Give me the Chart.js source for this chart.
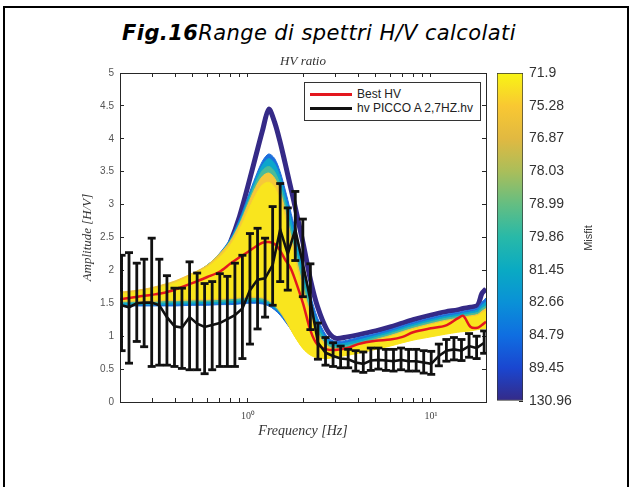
<!DOCTYPE html>
<html>
<head>
<meta charset="utf-8">
<script src="https://cdn.jsdelivr.net/npm/chart.js@4.4.1/dist/chart.umd.min.js"></script>
<style>
  body { margin: 0; width: 638px; height: 487px; overflow: hidden; position: relative; background: #fff; font-family: "Liberation Sans", sans-serif; }
  #frame { position: absolute; left: 3px; top: 6px; width: 622px; height: 495px; border: 2px solid #000; }
  #figTitle { position: absolute; left: 0; top: 20px; width: 638px; text-align: center; font: italic 21px "DejaVu Sans"; letter-spacing: 0.4px; line-height: 26px; color: #000; }
  #figTitle b { font-weight: bold; }
  #main { position: absolute; left: 40px; top: 0; }
  #cbar { position: absolute; left: 490px; top: 0; }
  #legend { position: absolute; left: 304px; top: 82px; width: 175px; height: 37px; border: 1px solid #333; background: #fff; font-size: 12px; color: #222; }
  #legend .row { position: absolute; left: 5px; height: 15px; line-height: 15px; display: flex; align-items: center; white-space: nowrap; }
  #legend .swatch { display: inline-block; width: 42px; height: 3px; margin-right: 5px; }
  #misfit { position: absolute; left: 558px; top: 231px; width: 60px; height: 14px; line-height: 14px; text-align: center; font-size: 11px; color: #333; transform: rotate(-90deg); }
</style>
</head>
<body>
<div id="frame"></div>
<div id="figTitle"><b>Fig.16</b>Range di spettri H/V calcolati</div>
<canvas id="main" width="526" height="487"></canvas>
<canvas id="cbar" width="148" height="487"></canvas>
<div id="legend">
  <div class="row" style="top:4px"><span class="swatch" style="background:#e3171e"></span>Best HV</div>
  <div class="row" style="top:18px"><span class="swatch" style="background:#111"></span>hv PICCO A 2,7HZ.hv</div>
</div>
<div id="misfit">Misfit</div>

<script>
// measured H/V curve (black) with error bars
const freq = [0.204, 0.224, 0.247, 0.271, 0.298, 0.328, 0.361, 0.397, 0.436, 0.480,
  0.528, 0.580, 0.638, 0.702, 0.772, 0.849, 0.933, 1.026, 1.129, 1.241,
  1.365, 1.501, 1.651, 1.815, 1.996, 2.195, 2.414, 2.655, 2.920, 3.211,
  3.531, 3.883, 4.270, 4.696, 5.164, 5.679, 6.245, 6.868, 7.553, 8.306,
  9.134, 10.04, 11.05, 12.15, 13.36, 14.69, 16.16, 17.77, 19.54];
const hvMean = [1.47, 1.44, 1.50, 1.51, 1.51, 1.47, 1.29, 1.15, 1.13, 1.29,
  1.19, 1.14, 1.17, 1.20, 1.26, 1.32, 1.42, 1.70, 1.86, 1.88,
  2.08, 2.62, 2.25, 2.62, 2.10, 1.55, 0.90, 0.75, 0.70, 0.66,
  0.65, 0.60, 0.58, 0.63, 0.64, 0.63, 0.62, 0.64, 0.62, 0.62,
  0.60, 0.58, 0.70, 0.78, 0.80, 0.78, 0.85, 0.82, 0.90];
const hvHigh = [2.23, 2.27, 2.11, 2.17, 2.49, 2.17, 1.92, 1.73, 1.73, 2.13,
  1.96, 1.80, 1.83, 1.95, 1.91, 2.11, 2.23, 2.56, 2.64, 2.49,
  2.97, 3.32, 2.95, 3.20, 2.78, 2.10, 1.20, 0.98, 0.90, 0.85,
  0.80, 0.78, 0.76, 0.82, 0.82, 0.80, 0.80, 0.82, 0.80, 0.80,
  0.78, 0.77, 0.88, 0.95, 0.98, 0.95, 1.04, 1.00, 1.08];
const hvLow = [0.78, 0.59, 0.92, 0.84, 0.54, 0.56, 0.56, 0.54, 0.51, 0.49,
  0.49, 0.43, 0.49, 0.54, 0.54, 0.54, 0.66, 0.88, 1.11, 1.29,
  1.47, 1.83, 1.70, 2.15, 1.60, 1.10, 0.65, 0.56, 0.54, 0.52,
  0.52, 0.47, 0.45, 0.48, 0.50, 0.48, 0.47, 0.49, 0.47, 0.47,
  0.44, 0.42, 0.55, 0.62, 0.64, 0.63, 0.68, 0.66, 0.74];

// modelled curves (coloured by misfit)
const bandFreq = [0.2, 0.25, 0.3, 0.35, 0.4, 0.5, 0.6, 0.7, 0.8, 0.9,
  1.0, 1.1, 1.2, 1.3, 1.4, 1.5, 1.6, 1.7, 1.8, 2.0,
  2.2, 2.4, 2.7, 3.0, 3.5, 4.0, 5.0, 6.0, 7.0, 8.0,
  10, 12, 14, 15, 16.5, 18, 19, 20];
const bestHV = [1.56, 1.60, 1.63, 1.66, 1.71, 1.81, 1.90, 1.98, 2.10, 2.20,
  2.28, 2.36, 2.42, 2.43, 2.40, 2.30, 2.16, 2.05, 1.88, 1.50,
  1.08, 0.87, 0.80, 0.79, 0.82, 0.88, 0.93, 0.95, 0.99, 1.06,
  1.12, 1.16, 1.27, 1.31, 1.14, 1.13, 1.17, 1.22];
const worstHV = [1.50, 1.50, 1.50, 1.51, 1.52, 1.56, 1.70, 2.05, 2.42, 2.82,
  3.28, 3.72, 4.12, 4.45, 4.25, 3.95, 3.62, 3.30, 3.00, 2.42,
  1.85, 1.45, 1.10, 0.97, 0.99, 1.02, 1.08, 1.14, 1.20, 1.25,
  1.32, 1.37, 1.40, 1.42, 1.44, 1.47, 1.65, 1.72];
const blueUp = [1.64, 1.67, 1.71, 1.76, 1.81, 1.94, 2.08, 2.26, 2.48, 2.78,
  3.12, 3.42, 3.66, 3.77, 3.70, 3.50, 3.22, 2.93, 2.65, 2.10,
  1.62, 1.28, 1.00, 0.92, 0.94, 0.98, 1.04, 1.10, 1.16, 1.21,
  1.28, 1.33, 1.36, 1.38, 1.40, 1.43, 1.52, 1.58];
const blueLow = [1.46, 1.46, 1.46, 1.46, 1.46, 1.47, 1.47, 1.48, 1.48, 1.49,
  1.50, 1.50, 1.49, 1.46, 1.40, 1.32, 1.22, 1.12, 1.02, 0.86,
  0.77, 0.74, 0.74, 0.76, 0.79, 0.82, 0.88, 0.93, 0.98, 1.02,
  1.07, 1.11, 1.14, 1.15, 1.16, 1.18, 1.19, 1.20];
const cyanUp = [1.65, 1.68, 1.72, 1.77, 1.82, 1.94, 2.08, 2.25, 2.46, 2.75,
  3.08, 3.38, 3.60, 3.70, 3.62, 3.42, 3.12, 2.82, 2.52, 1.98,
  1.52, 1.20, 0.95, 0.88, 0.90, 0.94, 1.01, 1.07, 1.13, 1.18,
  1.25, 1.30, 1.33, 1.35, 1.37, 1.40, 1.47, 1.52];
const cyanLow = [1.48, 1.48, 1.48, 1.48, 1.49, 1.49, 1.50, 1.50, 1.51, 1.52,
  1.53, 1.53, 1.52, 1.49, 1.43, 1.35, 1.25, 1.14, 1.03, 0.86,
  0.76, 0.72, 0.72, 0.74, 0.77, 0.80, 0.86, 0.91, 0.96, 1.00,
  1.05, 1.09, 1.12, 1.13, 1.14, 1.16, 1.17, 1.18];
const greenUp = [1.66, 1.69, 1.73, 1.78, 1.83, 1.95, 2.08, 2.25, 2.45, 2.72,
  3.04, 3.32, 3.52, 3.58, 3.50, 3.30, 3.00, 2.68, 2.38, 1.85,
  1.42, 1.12, 0.90, 0.84, 0.86, 0.90, 0.98, 1.04, 1.10, 1.15,
  1.22, 1.27, 1.30, 1.32, 1.34, 1.36, 1.42, 1.46];
const greenLow = [1.51, 1.51, 1.51, 1.51, 1.52, 1.52, 1.53, 1.53, 1.54, 1.55,
  1.56, 1.56, 1.55, 1.52, 1.45, 1.36, 1.25, 1.13, 1.02, 0.84,
  0.74, 0.70, 0.69, 0.71, 0.74, 0.77, 0.83, 0.88, 0.93, 0.97,
  1.02, 1.06, 1.09, 1.10, 1.11, 1.13, 1.14, 1.15];
const orangeUp = [1.67, 1.70, 1.74, 1.79, 1.84, 1.96, 2.08, 2.25, 2.44, 2.70,
  3.00, 3.26, 3.43, 3.48, 3.40, 3.20, 2.90, 2.58, 2.28, 1.75,
  1.33, 1.05, 0.86, 0.81, 0.83, 0.87, 0.95, 1.01, 1.07, 1.12,
  1.19, 1.24, 1.27, 1.29, 1.31, 1.33, 1.38, 1.42];
const orangeLow = [1.53, 1.53, 1.53, 1.54, 1.54, 1.55, 1.55, 1.56, 1.57, 1.58,
  1.59, 1.59, 1.58, 1.54, 1.47, 1.37, 1.25, 1.12, 1.00, 0.82,
  0.72, 0.68, 0.67, 0.69, 0.72, 0.75, 0.81, 0.86, 0.91, 0.95,
  1.00, 1.04, 1.07, 1.08, 1.09, 1.11, 1.12, 1.13];
const yellowUp = [1.64, 1.67, 1.71, 1.76, 1.81, 1.93, 2.05, 2.20, 2.38, 2.62,
  2.90, 3.14, 3.30, 3.34, 3.26, 3.06, 2.77, 2.46, 2.17, 1.66,
  1.26, 1.00, 0.83, 0.79, 0.81, 0.85, 0.93, 0.99, 1.05, 1.10,
  1.17, 1.22, 1.25, 1.27, 1.29, 1.31, 1.35, 1.38];
const yellowLow = [1.55, 1.55, 1.56, 1.56, 1.56, 1.57, 1.57, 1.58, 1.59, 1.60,
  1.61, 1.61, 1.60, 1.56, 1.49, 1.39, 1.27, 1.13, 1.00, 0.81,
  0.71, 0.67, 0.66, 0.68, 0.71, 0.74, 0.80, 0.85, 0.90, 0.94,
  0.99, 1.03, 1.06, 1.07, 1.08, 1.10, 1.11, 1.12];

// axis ticks
const xTickValues = [0.2, 0.3, 0.4, 0.5, 0.6, 0.7, 0.8, 0.9, 1, 2, 3, 4, 5, 6, 7, 8, 9, 10, 20];
const xTickLabels = { 1: "10\u2070", 10: "10\u00b9" };
const misfitLabels = ["71.9", "75.28", "76.87", "78.03", "78.99", "79.86", "81.45", "82.66", "84.79", "89.45", "130.96"];

// parula-like colormap, low misfit (yellow) on top
const parula = ["#352a87", "#1a46d0", "#0f6ee1", "#0a91d7", "#0aaac3", "#28b9a8", "#64be82", "#aabe5a", "#e1b941", "#f9c832", "#f8f514"];

const pts = (xs, ys) => xs.map((x, i) => ({ x, y: ys[i] }));

const datasets = [];
datasets.push({ data: pts(freq, hvMean), borderColor: "#111", borderWidth: 2.6, pointRadius: 0, tension: 0, order: 1 });
datasets.push({
  data: freq.flatMap((f, i) => [{ x: f, y: hvLow[i] }, { x: f, y: hvHigh[i] }, { x: f, y: null }]),
  borderColor: "#111", borderWidth: 2.8, pointStyle: "line", pointRadius: 4,
  pointBorderColor: "#111", pointBorderWidth: 2.8, spanGaps: false, tension: 0, order: 0
});
datasets.push({ data: pts(bandFreq, bestHV), borderColor: "#e3171e", borderWidth: 2.5, pointRadius: 0, tension: 0.3, order: 2 });

function band(up, low, color, order) {
  datasets.push({ data: pts(bandFreq, up), borderColor: color, borderWidth: 1, backgroundColor: color, fill: "+1", pointRadius: 0, tension: 0.3, order });
  datasets.push({ data: pts(bandFreq, low), borderColor: color, borderWidth: 1, fill: false, pointRadius: 0, tension: 0.3, order });
}
band(yellowUp, yellowLow, "#f9e51e", 3);
band(orangeUp, orangeLow, "#f6c83a", 4);
band(greenUp, greenLow, "#4cbb98", 5);
band(cyanUp, cyanLow, "#0ca6cc", 6);
band(blueUp, blueLow, "#1c6fdc", 7);
datasets.push({ data: pts(bandFreq, worstHV), borderColor: "#352a87", borderWidth: 5, pointRadius: 0, tension: 0.3, order: 8 });

const axisColor = "#262626";
const gridOpts = { drawOnChartArea: false, tickLength: -4, color: axisColor, lineWidth: 1 };
const borderOpts = { color: axisColor, width: 1 };
const setXTicks = s => { s.ticks = xTickValues.map(v => ({ value: v })); };

new Chart(document.getElementById("main"), {
  type: "line",
  data: { datasets },
  options: {
    responsive: false,
    animation: false,
    devicePixelRatio: 1,
    layout: { padding: 0 },
    plugins: {
      legend: { display: false },
      tooltip: { enabled: false },
      title: {
        display: true, text: "HV ratio", color: "#333",
        font: { family: "Liberation Serif", style: "italic", size: 13, lineHeight: 1, weight: "normal" },
        padding: { top: 55, bottom: 0 }
      }
    },
    scales: {
      x: {
        type: "logarithmic", position: "bottom", min: 0.2, max: 20,
        afterBuildTicks: setXTicks,
        afterFit: s => { s.height = 85; },
        ticks: { autoSkip: false, maxRotation: 0, padding: 12, color: "#444", font: { family: "Liberation Serif", size: 10 }, callback: v => xTickLabels[v] || "" },
        grid: gridOpts, border: borderOpts,
        title: { display: true, text: "Frequency [Hz]", color: "#333", font: { family: "Liberation Serif", style: "italic", size: 14 }, padding: { top: 0, bottom: 47 } }
      },
      x2: {
        type: "logarithmic", position: "top", min: 0.2, max: 20,
        afterBuildTicks: setXTicks,
        afterFit: s => { s.height = 5; },
        ticks: { display: false },
        grid: gridOpts, border: borderOpts
      },
      y: {
        position: "left", min: 0, max: 5,
        afterFit: s => { s.width = 80; },
        ticks: { stepSize: 0.5, padding: 10, color: "#555", font: { family: "Liberation Sans", size: 10 }, callback: v => String(Math.round(v * 10) / 10) },
        grid: gridOpts, border: borderOpts,
        title: { display: true, text: "Amplitude [H/V]", color: "#333", font: { family: "Liberation Serif", style: "italic", size: 13 }, padding: { top: 40, bottom: 0 } }
      },
      y2: {
        position: "right", min: 0, max: 5,
        afterFit: s => { s.width = 80; },
        ticks: { display: false, stepSize: 0.5 },
        grid: gridOpts, border: borderOpts
      }
    }
  }
});

// colorbar
new Chart(document.getElementById("cbar"), {
  type: "bar",
  data: {
    labels: ["Misfit"],
    datasets: [{
      data: [misfitLabels.length - 1],
      barPercentage: 1, categoryPercentage: 1,
      borderWidth: 1, borderColor: "#333", borderSkipped: false,
      backgroundColor: c => {
        const a = c.chart.chartArea;
        if (!a) return parula[0];
        const g = c.chart.ctx.createLinearGradient(0, a.bottom, 0, a.top);
        parula.forEach((col, i) => g.addColorStop(i / (parula.length - 1), col));
        return g;
      }
    }]
  },
  options: {
    responsive: false,
    animation: false,
    devicePixelRatio: 1,
    layout: { padding: { left: 7, top: 73, bottom: 86, right: 0 } },
    plugins: { legend: { display: false }, tooltip: { enabled: false } },
    scales: {
      x: { display: false },
      y: {
        position: "right", min: 0, max: misfitLabels.length - 1,
        afterFit: s => { s.width = 115; },
        ticks: { stepSize: 1, padding: 10, color: "#333", font: { family: "Liberation Sans", size: 14 }, callback: v => misfitLabels[misfitLabels.length - 1 - v] },
        grid: { drawOnChartArea: false, tickLength: -4, color: axisColor },
        border: { display: false }
      }
    }
  }
});
</script>
</body>
</html>
